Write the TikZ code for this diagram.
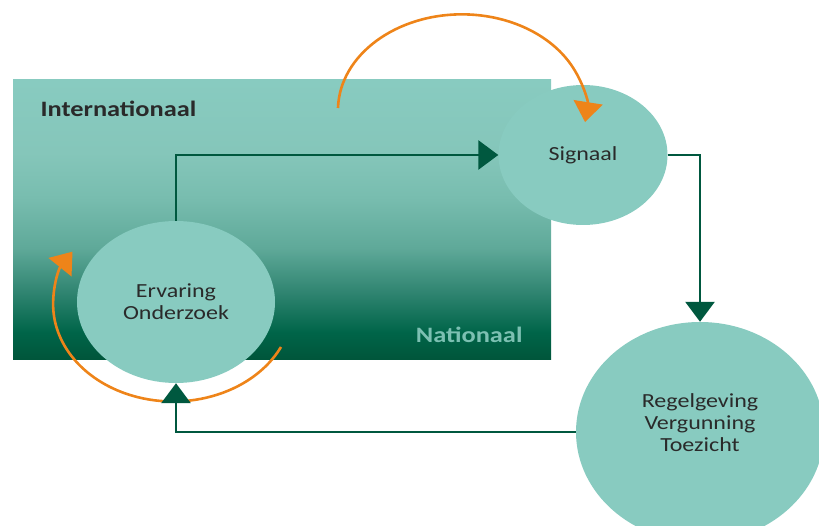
\documentclass[tikz,border=0pt]{standalone}
\usepackage{fontspec}
\setmainfont{Carlito}[FakeStretch=1.2]
\usetikzlibrary{arrows.meta,shapes.geometric}
\definecolor{lteal}{HTML}{88CBC0}
\definecolor{dgreen}{HTML}{00583F}
\definecolor{oranje}{HTML}{EE8419}
\definecolor{tekst}{HTML}{2A2A2A}
\definecolor{natgroen}{HTML}{7CC0B2}
\definecolor{ga}{HTML}{00553A}
\definecolor{gb}{HTML}{006549}
\definecolor{gc}{HTML}{2F8470}
\definecolor{gd}{HTML}{5FA999}
\definecolor{ge}{HTML}{78BDAF}
\definecolor{gf}{HTML}{85C6BA}
\pgfdeclareverticalshading{intnat}{100bp}{color(0bp)=(ga); color(25bp)=(ga);
 color(30bp)=(gb); color(37bp)=(gc); color(45bp)=(gd); color(54bp)=(ge);
 color(62bp)=(gf); color(75bp)=(lteal); color(100bp)=(lteal)}
\tikzset{
 bol/.style={ellipse,fill=lteal,inner sep=0pt,text=tekst,align=center,
  font=\fontsize{20}{22}\selectfont},
 pijl/.style={draw=dgreen,line width=2.8pt,->},
 boog/.style={draw=oranje,line width=2.6pt,
  -{Triangle[length=20pt,width=29pt,fill=oranje]}}
}
\begin{document}
\begin{tikzpicture}[x=1pt,y=1pt,>={Triangle[length=20pt,width=29pt]}]
 \useasboundingbox (0,0) rectangle (819,525);
 \shade[shading=intnat] (13,165) rectangle (551,445);
 \draw (37,408) node[anchor=base west,text=tekst,
  font=\fontsize{22}{24}\selectfont\bfseries]{Internationaal};
 \draw (526,182) node[anchor=base east,text=natgroen,
  font=\fontsize{22}{24}\selectfont\bfseries]{Nationaal};
 % de drie bollen
 \node[bol,minimum width=169pt,minimum height=140pt] (signaal) at (583,370) {Signaal};
 \node[bol,minimum width=198pt,minimum height=162pt] (ervaring) at (176,223) {Ervaring\\Onderzoek};
 \node[bol,minimum width=248pt,minimum height=220pt,text depth=18pt] (regel) at (700,93) {Regelgeving\\Vergunning\\Toezicht};
 % oranje bogen
 \coordinate (boogA) at (338,417);
 \coordinate (boogB) at (281,178);
 \draw[boog] (boogA) arc[start angle=178.6,end angle=-7,x radius=124,y radius=96];
 \draw[boog] (boogB) arc[start angle=-26,end angle=-213,x radius=120,y radius=97];
 % de kringloop
 \draw[pijl] (ervaring.north) |- (signaal.west);
 \draw[pijl] (signaal.east) -| (regel.north);
 \draw[pijl] (regel.west) -| (ervaring.south);
\end{tikzpicture}
\end{document}
